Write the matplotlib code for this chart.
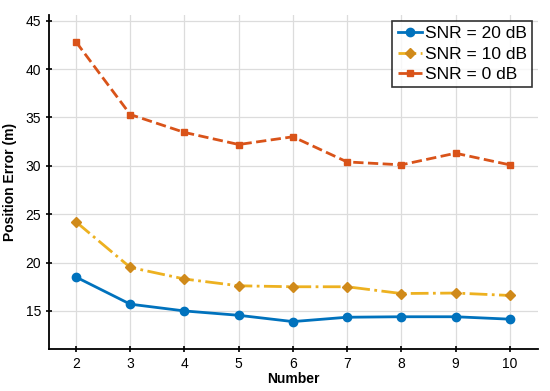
import matplotlib
matplotlib.use("Agg")
import matplotlib.pyplot as plt

numbers = [2, 3, 4, 5, 6, 7, 8, 9, 10]
snr20 = [18.5, 15.7, 15.0, 14.55, 13.9, 14.35, 14.4, 14.4, 14.15]
snr10 = [24.2, 19.5, 18.3, 17.6, 17.5, 17.5, 16.8, 16.85, 16.6]
snr0 = [42.8, 35.3, 33.45, 32.2, 33.0, 30.4, 30.1, 31.3, 30.1]
labels = ["SNR = 20 dB", "SNR = 10 dB", "SNR = 0 dB"]
yticks = [15, 20, 25, 30, 35, 40, 45]

plt.rcParams['font.family'] = ['Liberation Sans', 'DejaVu Sans']

fig = plt.figure(figsize=(5.5, 3.91), dpi=100)
ax = fig.add_axes([0.089, 0.107, 0.889, 0.855])

ax.plot(numbers, snr20, color='#0072BD', lw=2, ls='-', marker='o', ms=6,
        mfc='#0072BD', mec='#0072BD', label=labels[0])
ax.plot(numbers, snr10, color='#EDB120', lw=2, ls='-.', marker='D', ms=5,
        mfc='#D08A1A', mec='#D08A1A', label=labels[1])
ax.plot(numbers, snr0, color='#D95319', lw=2, ls='--', marker='s', ms=5,
        mfc='#D95319', mec='#D95319', label=labels[2])

ax.set_xlim(1.5, 10.52)
ax.set_ylim(11.05, 45.6)
ax.set_xticks(numbers)
ax.set_yticks(yticks)
ax.grid(True, color='#dcdcdc', lw=0.9)
ax.set_axisbelow(True)
for s in ['top', 'right']:
    ax.spines[s].set_visible(False)
for s in ['left', 'bottom']:
    ax.spines[s].set_linewidth(1.3)
ax.tick_params(direction='inout', length=5, width=1.2, labelsize=10, pad=3)

ax.set_xlabel('Number', fontsize=10, fontweight='bold', labelpad=1)
ax.set_ylabel('Position Error (m)', fontsize=10, fontweight='bold', labelpad=6)

leg = ax.legend(loc='upper right', bbox_to_anchor=(1.0, 1.0), fontsize=12.5,
                frameon=True, fancybox=False, edgecolor='black',
                handlelength=1.4, handletextpad=0.15, borderpad=0.3,
                labelspacing=0.3, borderaxespad=0.35)
leg.get_frame().set_linewidth(1.2)

fig.savefig('out.png', dpi=100)
